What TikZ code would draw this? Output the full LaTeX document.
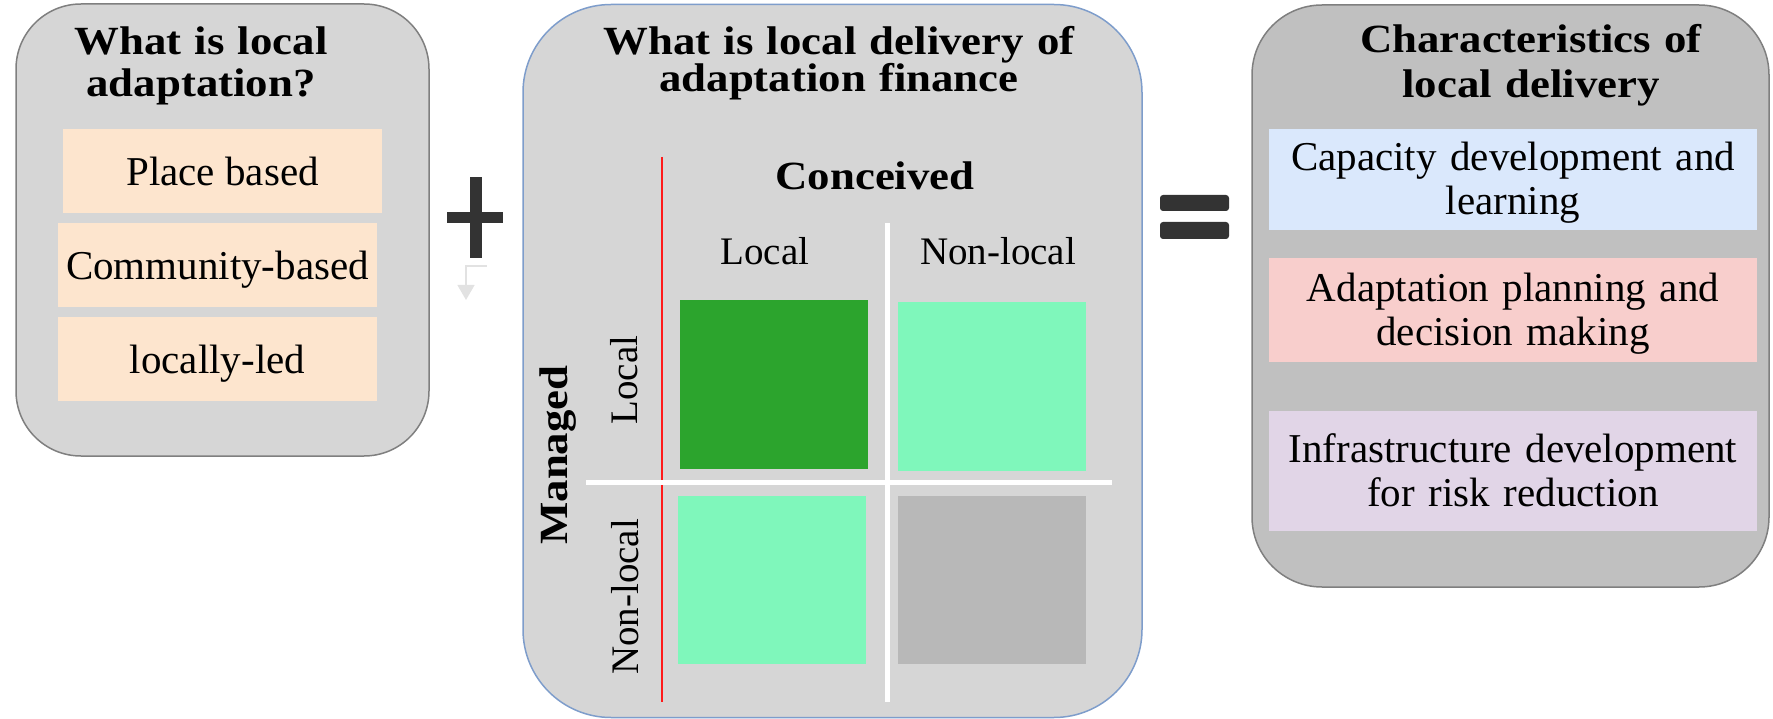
\documentclass[tikz,border=0pt]{standalone}
\usepackage{fontspec}
\setmainfont{Liberation Serif}
\newfontfamily\headfont[FakeStretch=1.12]{Liberation Serif}
\usetikzlibrary{arrows.meta}
\definecolor{panelfill}{HTML}{D6D6D6}
\definecolor{rightfill}{HTML}{C0C0C0}
\definecolor{panelborder}{HTML}{7F7F7F}
\definecolor{midborder}{HTML}{7E9DCB}
\definecolor{peach}{HTML}{FDE5CE}
\definecolor{lblue}{HTML}{DAE8FC}
\definecolor{lpink}{HTML}{F8CECC}
\definecolor{lpurple}{HTML}{E1D5E7}
\definecolor{dgreen}{HTML}{2CA42D}
\definecolor{lgreen}{HTML}{7FF7BB}
\definecolor{cellgray}{HTML}{B8B8B8}
\definecolor{symbol}{HTML}{333333}
\definecolor{faint}{HTML}{E2E2E2}
\definecolor{redline}{HTML}{FF1A1A}
\begin{document}
\begin{tikzpicture}[x=1pt,y=-1pt,
  panel/.style={draw=panelborder, line width=1.5pt, fill=panelfill, inner sep=0pt, outer sep=0pt},
  heading/.style={anchor=base, inner sep=0pt, align=center, text width=#1,
    font=\headfont\bfseries\fontsize{40}{42}\selectfont},
  itembox/.style={fill=#1, inner sep=0pt, outer sep=0pt},
  oneline/.style={font=\fontsize{41}{43}\selectfont, text height=29pt, text depth=0pt},
  twoline/.style={font=\fontsize{41}{44}\selectfont, text width=470pt, align=center, text height=0pt, text depth=17pt},
  cell/.style={fill=#1, inner sep=0pt, outer sep=0pt},
  gridlabel/.style={anchor=base, inner sep=0pt, font=\fontsize{39}{41}\selectfont},
  whiteline/.style={draw=white, line width=5pt},
]
\useasboundingbox (0,0) rectangle (1773,719);

% ---------- left panel ----------
\node[panel, rounded corners=65pt, minimum width=413pt, minimum height=452pt] (left) at (222.5,230) {};
\node[heading=400pt] (lefttitle) at (201,55) {What is local\\[-0.5pt]adaptation?};
\node[itembox=peach, oneline, minimum width=319pt, minimum height=84pt] (pb) at (222.5,171) {Place based};
\node[itembox=peach, oneline, minimum width=319pt, minimum height=84pt] (cb) at (217.5,265) {Community-based};
\node[itembox=peach, oneline, minimum width=319pt, minimum height=84pt] (ll) at (217.5,359) {locally-led};

% ---------- plus sign ----------
\fill[symbol] (470,177) rectangle (482,258);
\fill[symbol] (447,212) rectangle (503,223);

% faint arrow
\coordinate (arrs) at (487,266);
\coordinate (arre) at (466,300);
\draw[faint, line width=1.5pt, -{Triangle[width=17pt,length=15pt]}] (arrs) -| (arre);

% ---------- middle panel ----------
\node[panel, draw=midborder, rounded corners=88pt, minimum width=619pt, minimum height=713pt] (mid) at (832.5,361) {};
\node[heading=600pt, font=\headfont\bfseries\fontsize{40}{37}\selectfont] (midtitle) at (839,55) {What is local delivery of\\adaptation finance};
\node[heading=300pt] (conceived) at (875,190) {Conceived};
\node[gridlabel] (colloc) at (765,265) {Local};
\node[gridlabel] (colnon) at (998,265) {Non-local};
\node[gridlabel, rotate=90] (rowloc) at (637,380) {Local};
\node[gridlabel, rotate=90] (rownon) at (638,597) {Non-local};
\node[heading=300pt, rotate=90] (managed) at (567,455) {Managed};

\node[cell=dgreen, minimum width=188pt, minimum height=169pt] (c11) at (774,384.5) {};
\node[cell=lgreen, minimum width=188pt, minimum height=169pt] (c12) at (992,386.5) {};
\node[cell=lgreen, minimum width=188pt, minimum height=168pt] (c21) at (772,580) {};
\node[cell=cellgray, minimum width=188pt, minimum height=168pt] (c22) at (992,580) {};

\coordinate (rtop) at (662,157);
\coordinate (rbot) at (662,702);
\draw[redline, line width=1.5pt] (rtop) -- (rbot);
\coordinate (vtop) at (887,223);
\coordinate (vbot) at (887,702);
\draw[whiteline] (vtop) -- (vbot);
\coordinate (hl) at (586,482);
\coordinate (hr) at (1112,482);
\draw[whiteline] (hl) -- (hr);

% ---------- equals sign ----------
\fill[symbol, rounded corners=3pt] (1160,195) rectangle (1229,211);
\fill[symbol, rounded corners=3pt] (1160,222) rectangle (1229,239);

% ---------- right panel ----------
\node[panel, fill=rightfill, rounded corners=70pt, minimum width=517pt, minimum height=582pt] (right) at (1510.5,296) {};
\node[heading=500pt, font=\headfont\bfseries\fontsize{40}{45}\selectfont] (righttitle) at (1531,53) {Characteristics of\\local delivery};
\node[itembox=lblue, twoline, minimum width=488pt, minimum height=101pt] (cap) at (1513,179.5) {Capacity development and\\learning};
\node[itembox=lpink, twoline, minimum width=488pt, minimum height=104pt] (plan) at (1513,310) {Adaptation planning and\\decision making};
\node[itembox=lpurple, twoline, minimum width=488pt, minimum height=120pt] (infra) at (1513,471) {Infrastructure development\\for risk reduction};
\end{tikzpicture}
\end{document}
